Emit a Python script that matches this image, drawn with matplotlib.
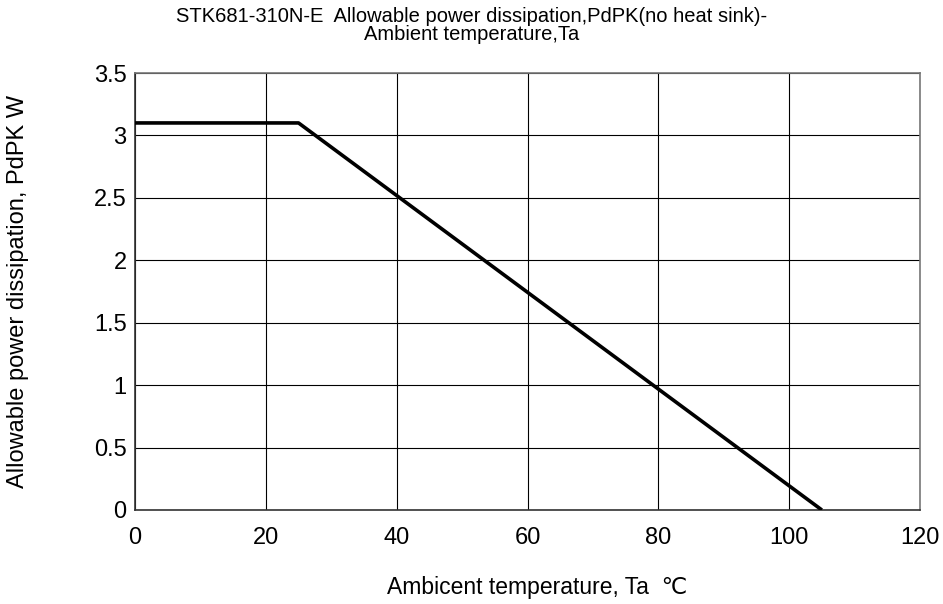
import matplotlib
matplotlib.use("Agg")
import matplotlib.pyplot as plt

plt.rcParams["font.family"] = ["Liberation Sans", "DejaVu Sans"]

# derating curve
temp = [0, 25, 105]
power = [3.1, 3.1, 0]

x_ticks = [0, 20, 40, 60, 80, 100, 120]
y_ticks = [0, 0.5, 1, 1.5, 2, 2.5, 3, 3.5]
y_labels = ["0", "0.5", "1", "1.5", "2", "2.5", "3", "3.5"]

fig = plt.figure(figsize=(9.43, 6.04), dpi=100)
ax = fig.add_axes([135 / 943, 94 / 604, 785 / 943, 437 / 604])

ax.plot(temp, power, color="black", linewidth=2.6, solid_capstyle="butt", zorder=3)

ax.set_xlim(0, 120)
ax.set_ylim(0, 3.5)
ax.set_xticks(x_ticks)
ax.set_yticks(y_ticks)
ax.set_yticklabels(y_labels)
ax.tick_params(length=0, labelsize=17)
ax.tick_params(axis="y", pad=6)
ax.tick_params(axis="x", pad=12)
ax.grid(True, color="black", linewidth=0.8)

for s in ["left", "bottom"]:
    ax.spines[s].set_color("#333333")
    ax.spines[s].set_linewidth(1.2)
for s in ["top", "right"]:
    ax.spines[s].set_color("#777777")
    ax.spines[s].set_linewidth(1.2)

ax.set_xlabel("Ambicent temperature, Ta  \u2103", fontsize=16.5)
ax.set_ylabel("Allowable power dissipation, PdPK W", fontsize=17)
ax.xaxis.set_label_coords(0.512, -0.152)
ax.yaxis.set_label_coords(-0.135, 0.5)
fig.text(0.5, 0.989, "STK681-310N-E  Allowable power dissipation,PdPK(no heat sink)-\nAmbient temperature,Ta",
         ha="center", va="top", fontsize=14.5, linespacing=0.95)

fig.savefig("out.png", dpi=100)
